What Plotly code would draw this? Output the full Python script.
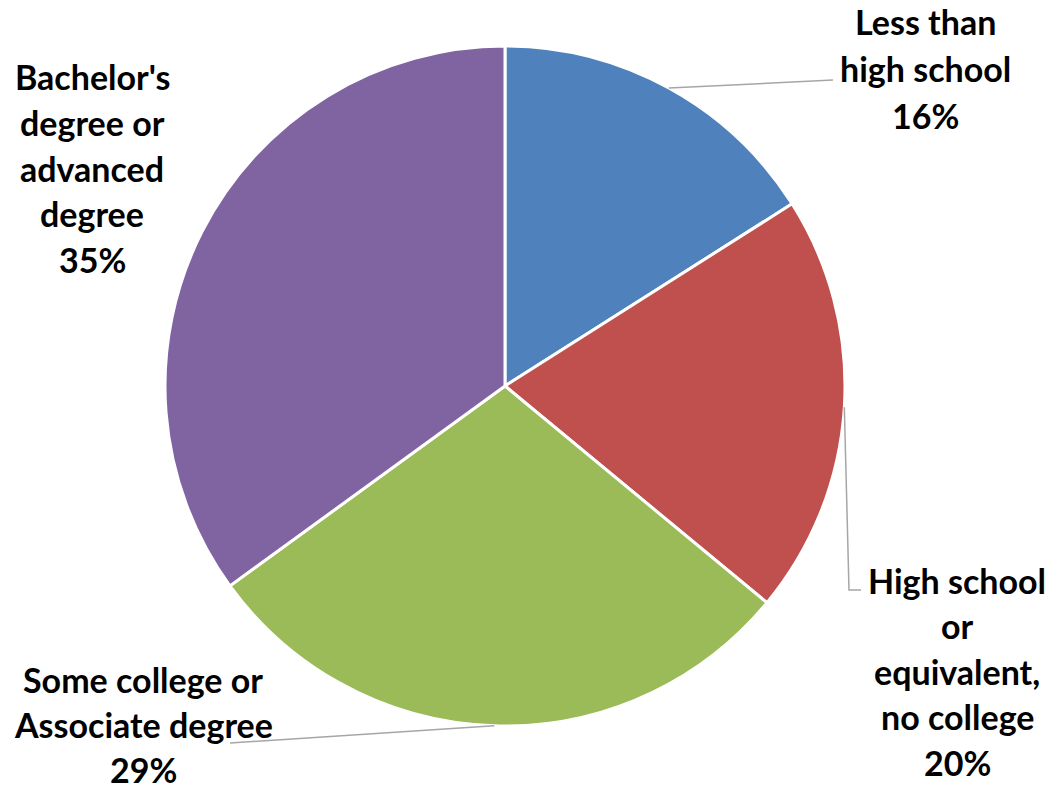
import math
import plotly.graph_objects as go

# ---- data ----
categories = [
    "Less than high school",
    "High school or equivalent, no college",
    "Some college or Associate degree",
    "Bachelor's degree or advanced degree",
]
values = [16, 20, 29, 35]
label_lines = [
    ["Less than", "high school"],
    ["High school", "or", "equivalent,", "no college"],
    ["Some college or", "Associate degree"],
    ["Bachelor's", "degree or", "advanced", "degree"],
]
colors = ["#4F81BD", "#C0504D", "#9BBB59", "#8064A2"]

# ---- layout ----
W, H = 1053, 786
CX, CY, R = 505, 386, 340          # pie centre / radius in pixels
FONT = "Lato"
FSIZE = 34

# label block: centre x, first-line y, line spacing (pixels)
label_pos = [
    (925, 22, 47),
    (957, 580, 45.5),
    (143, 679, 45),
    (92, 77, 45.5),
]
# leader line path after the slice edge point (pixels); None = no leader
leader_path = [
    [(833, 80)],
    [(849, 590), (861, 590)],
    [(230, 743)],
    None,
]


def px(x):
    return x / W


def py(y):
    return 1 - y / H


fig = go.Figure(
    go.Pie(
        labels=categories,
        values=values,
        sort=False,
        direction="clockwise",
        rotation=0,
        marker=dict(colors=colors, line=dict(color="white", width=3)),
        textinfo="none",
        hoverinfo="label+percent",
        domain=dict(x=[px(CX - R), px(CX + R)], y=[py(CY + R), py(CY - R)]),
        showlegend=False,
    )
)

annotations = []
shapes = []
total = sum(values)
cum = 0
for i, v in enumerate(values):
    mid = (cum + v / 2) / total * 2 * math.pi
    cum += v
    pct = f"{round(v / total * 100)}%"
    lines = label_lines[i] + [pct]
    lx, ly0, dy = label_pos[i]
    for j, t in enumerate(lines):
        annotations.append(
            dict(
                x=px(lx), y=py(ly0 + j * dy), xref="paper", yref="paper",
                text=f"<b>{t}</b>", showarrow=False,
                xanchor="center", yanchor="middle",
                font=dict(family=FONT, size=FSIZE, color="black"),
            )
        )
    if leader_path[i]:
        sx = CX + R * math.sin(mid)
        sy = CY - R * math.cos(mid)
        pts = [(sx, sy)] + leader_path[i]
        path = "M " + " L ".join(f"{px(a)},{py(b)}" for a, b in pts)
        shapes.append(
            dict(type="path", path=path, xref="paper", yref="paper",
                 line=dict(color="#A6A6A6", width=1.5))
        )

fig.update_layout(
    width=W, height=H,
    margin=dict(l=0, r=0, t=0, b=0),
    paper_bgcolor="white",
    plot_bgcolor="white",
    annotations=annotations,
    shapes=shapes,
)

fig.write_html("out.html", config={"displayModeBar": False},
               post_script="document.body.style.margin='0';")
